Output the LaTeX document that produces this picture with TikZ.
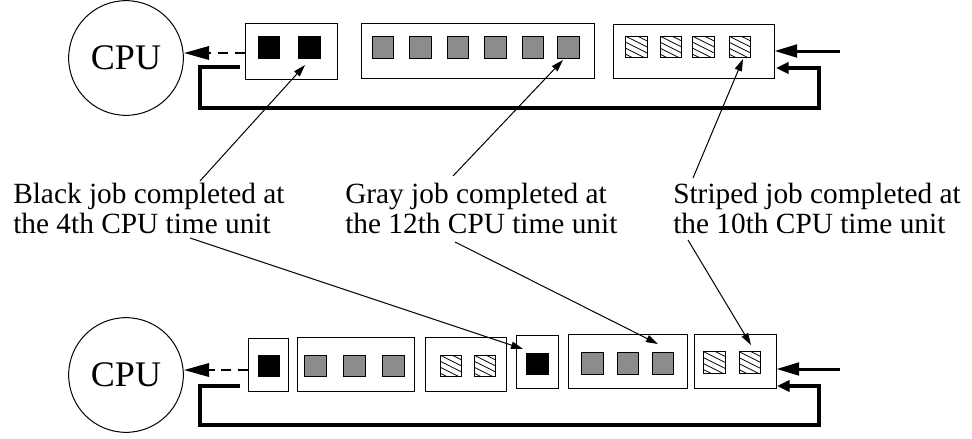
\documentclass[tikz,border=0pt]{standalone}
\usepackage{fontspec}
\setmainfont{Liberation Serif}
\usetikzlibrary{arrows.meta}
\definecolor{jobgray}{HTML}{8C8C8C}
\tikzset{
  qbox/.style 2 args={draw, line width=0.75pt, inner sep=0pt, minimum width=#1*0.75pt, minimum height=#2*0.75pt},
  sq/.style={draw, line width=0.75pt, inner sep=0pt, minimum size=16pt},
  blk/.style={sq, fill=black},
  gry/.style={sq, fill=jobgray},
  stp/.style={sq, path picture={\foreach \k in {-3,...,3} \draw[line width=0.6pt] ([yshift=\k*4.5pt]path picture bounding box.north west) -- ++(26,13);}},
  cpu/.style={draw, circle, line width=0.75pt, minimum size=86pt, inner sep=0pt, font=\fontsize{27pt}{30pt}\selectfont},
  lab/.style={align=left, inner sep=0pt, font=\fontsize{22pt}{22.5pt}\selectfont},
  dasharrow/.style={line width=2pt, dash pattern=on 7.5pt off 5pt, -{Triangle[length=19pt,width=10pt]}},
  inarrow/.style={line width=2.25pt, -{Triangle[length=17pt,width=9.5pt]}},
  fb/.style={line width=3pt, -{Triangle[length=9.5pt,width=8.5pt]}},
  pt/.style={line width=0.75pt, -{Triangle[length=9pt,width=5.5pt]}}
}
\begin{document}
\begin{tikzpicture}[x=0.75pt,y=-0.75pt]
\useasboundingbox (0,0) rectangle (972,439);

% ---------- top row ----------
\node[cpu] (cpu1) at (126,58) {CPU};
\node[qbox={92}{56}] (tb1) at (291,51) {};
\node[blk] (tb1a) at (269,47.5) {};
\node[blk] (tb1b) at (309.5,47.5) {};
\node[qbox={233}{55}] (tb2) at (477.5,50.5) {};
\foreach \i/\x in {1/383,2/420.5,3/458,4/495.5,5/533,6/568.5}
  \node[gry] (tb2\i) at (\x,47.5) {};
\node[qbox={161}{54}] (tb3) at (693.5,51) {};
\foreach \i/\x in {1/636.5,2/671,3/703.5,4/740}
  \node[stp] (tb3\i) at (\x,47) {};

\draw[dasharrow] ([yshift=-1.5pt]tb1.west) -- ([yshift=-1.5pt]tb1.west -| cpu1.east);
\coordinate (tin) at (840,51);
\draw[inarrow] (tin) -- (tin -| tb3.east);
\coordinate (tf1) at (240,67);
\coordinate (tf2) at (200,108);
\coordinate (tf3) at (819,108);
\coordinate (tf4) at (776,68);
\draw[fb] (tf1) -| (tf2) -- (tf3) |- (tf4);

% ---------- labels (anchor = baseline of the last line) ----------
\node[lab, anchor=base west] (lab1) at (13,233) {Black job completed at\\the 4th CPU time unit};
\node[lab, anchor=base west] (lab2) at (345,233) {Gray job completed at\\the 12th CPU time unit};
\node[lab, anchor=base west] (lab3) at (673,233) {Striped job completed at\\the 10th CPU time unit};

% ---------- bottom row ----------
\node[cpu] (cpu2) at (126,375) {CPU};
\node[qbox={40}{53}] (bA) at (268,364.5) {};
\node[blk] (bA1) at (269,366) {};
\node[qbox={117}{54}] (bB) at (355.5,364) {};
\foreach \i/\x in {1/315.5,2/354.5,3/393.5}
  \node[gry] (bB\i) at (\x,366) {};
\node[qbox={81}{54}] (bC) at (465.5,364) {};
\foreach \i/\x in {1/451,2/485}
  \node[stp] (bC\i) at (\x,366) {};
\node[qbox={42}{53}] (bD) at (537,361.5) {};
\node[blk] (bD1) at (537.5,364) {};
\node[qbox={119}{54}] (bE) at (627.5,361) {};
\foreach \i/\x in {1/592.5,2/628,3/663}
  \node[gry] (bE\i) at (\x,363.5) {};
\node[qbox={82}{54}] (bF) at (735,361) {};
\foreach \i/\x in {1/714.5,2/750}
  \node[stp] (bF\i) at (\x,362.5) {};

\coordinate (bda) at (248,370);
\draw[dasharrow] (bda) -- (bda -| cpu2.east);
\coordinate (bin) at (840,369);
\draw[inarrow] (bin) -- (bin -| bF.east);
\coordinate (bf1) at (240,386);
\coordinate (bf2) at (200,425);
\coordinate (bf3) at (819,425);
\coordinate (bf4) at (777,386);
\draw[fb] (bf1) -| (bf2) -- (bf3) |- (bf4);

% ---------- label pointers ----------
\coordinate (p1s) at (200,181); \coordinate (p1e) at (305,65);
\coordinate (p2s) at (453,176); \coordinate (p2e) at (563,60);
\coordinate (p3s) at (693,178); \coordinate (p3e) at (743,59);
\coordinate (q1s) at (190,238); \coordinate (q1e) at (523,349);
\coordinate (q2s) at (455,242); \coordinate (q2e) at (658,344);
\coordinate (q3s) at (688,240); \coordinate (q3e) at (751,345);
\draw[pt] (p1s) -- (p1e);
\draw[pt] (p2s) -- (p2e);
\draw[pt] (p3s) -- (p3e);
\draw[pt] (q1s) -- (q1e);
\draw[pt] (q2s) -- (q2e);
\draw[pt] (q3s) -- (q3e);
\end{tikzpicture}
\end{document}
